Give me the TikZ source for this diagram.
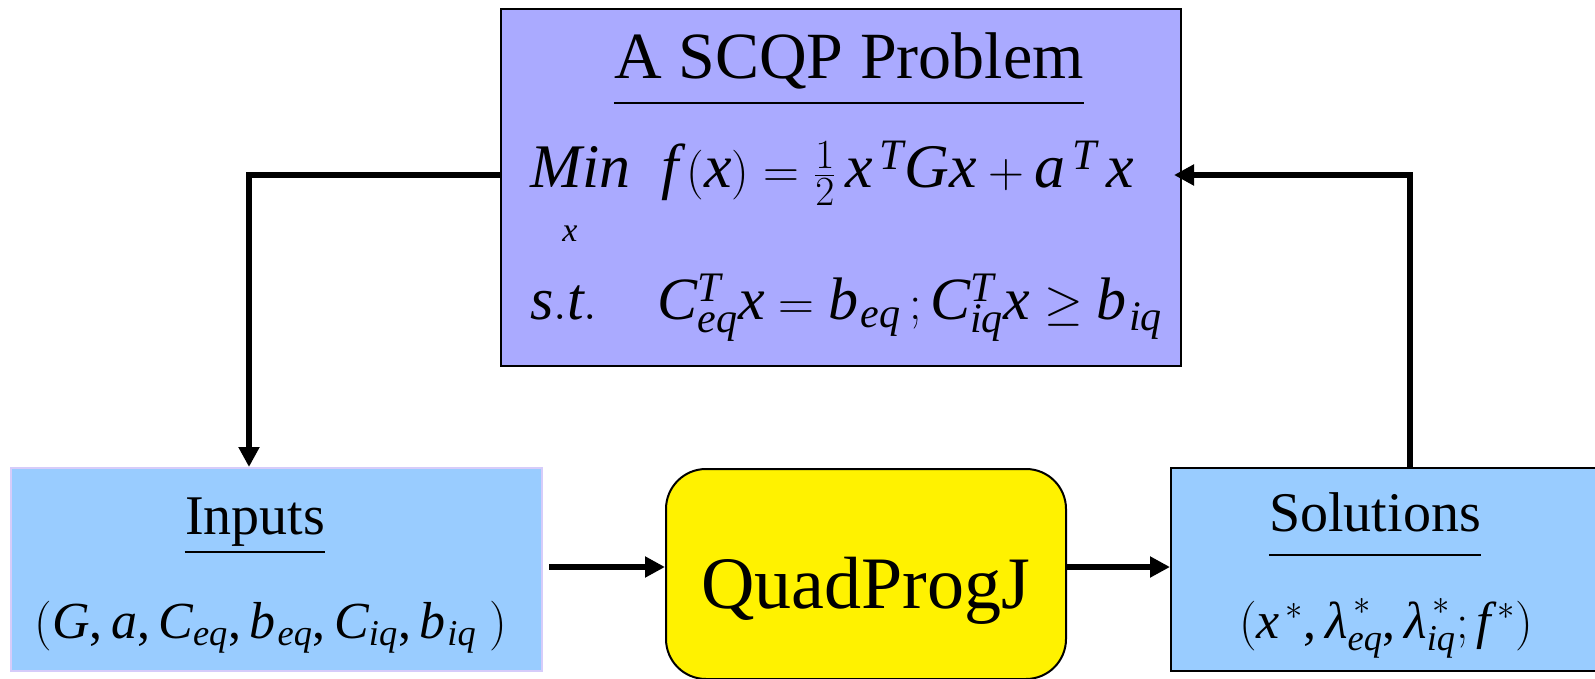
\documentclass[tikz,border=0pt]{standalone}
\usepackage{fontspec}
\setmainfont{Liberation Serif}
\usetikzlibrary{arrows.meta}
\DeclareMathSymbol{,}{\mathpunct}{operators}{`,}
\newcommand{\mi}[1]{\mathit{#1}}
\newcommand{\lam}{\mbox{\itshape λ}}
\definecolor{probblue}{RGB}{170,170,255}
\definecolor{ioblue}{RGB}{153,204,255}
\definecolor{ioedge}{RGB}{214,204,250}
\tikzset{
  box/.style={draw=black,line width=1pt,inner sep=0pt},
  txt/.style={inner sep=0pt,anchor=base},
  flow/.style={-{Triangle[length=10pt,width=10pt]},line width=3.2pt},
}
\begin{document}
\begin{tikzpicture}[x=0.5pt,y=-0.5pt]
\useasboundingbox (0,0) rectangle (1595,679);
% the four boxes
\node[box,fill=probblue,minimum width=340pt,minimum height=178.5pt] (prob) at (841,187.5) {};
\node[box,draw=ioedge,fill=ioblue,minimum width=265.5pt,minimum height=101.5pt] (inputs) at (276.5,569.5) {};
\node[box,fill=ioblue,minimum width=213.5pt,minimum height=101.5pt] (sols) at (1384.5,569.5) {};
\node[box,fill=yellow,rounded corners=20pt,minimum width=200pt,minimum height=105pt] (qp) at (866,574) {};
% problem text
\node[txt,font=\fontsize{33}{36}\selectfont] (probtitle) at (849,79) {A SCQP Problem};
\draw[line width=1.2pt] ([yshift=-12pt]probtitle.base west) -- ([yshift=-12pt]probtitle.base east);
\node[txt,anchor=base west,font=\fontsize{31}{34}\selectfont] (objline) at (530,188)
  {$\mi{Min}\ \ \mi{f}\,(\mi{x})=\frac{1}{2}\,\mi{x}^{\,\mi{T}}\mi{Gx}+\mi{a}^{\,\mi{T}}\,\mi{x}$};
\node[txt,font=\fontsize{17}{19}\selectfont\itshape] (minvar) at (570,242) {x};
\node[txt,anchor=base west,font=\fontsize{30}{33}\selectfont] (conline) at (530,320)
  {$\mi{s.t.}\quad\mi{C}_{\mi{eq}}^{\mi{T}}\mi{x}=\mi{b}_{\mkern1mu\mi{eq}}\,;\mi{C}_{\mi{iq}}^{\mi{T}}\mi{x}\geq\mi{b}_{\mkern1mu\mi{iq}}$};
% inputs text
\node[txt,font=\fontsize{28}{30}\selectfont] (intitle) at (255,534) {Inputs};
\draw[line width=1pt] ([yshift=-9pt]intitle.base west) -- ([yshift=-9pt]intitle.base east);
\node[txt,font=\fontsize{26}{28}\selectfont] (inargs) at (271,638)
  {$(\mi{G},\mi{a},\mi{C}_{\mi{eq}},\mi{b}_{\mkern1mu\mi{eq}},\mi{C}_{\mi{iq}},\mi{b}_{\mkern1mu\mi{iq}}\ )$};
% solver
\node[txt,font=\fontsize{37}{40}\selectfont] (qptext) at (866,608) {QuadProgJ};
% solutions text
\node[txt,font=\fontsize{28}{30}\selectfont] (soltitle) at (1375,531) {Solutions};
\draw[line width=1pt] ([yshift=-12pt]soltitle.base west) -- ([yshift=-12pt]soltitle.base east);
\node[txt,font=\fontsize{26}{28}\selectfont] (solargs) at (1386,638)
  {$(\mi{x}^{\,*},\lam_{\mi{eq}}^{\,*},\lam_{\mi{iq}}^{\,*};\mi{f}^{\,*})$};
% connectors
\coordinate (lbend) at (249,175);
\coordinate (rbend) at (1410,175);
\coordinate (midrow) at (0,567);
\draw[flow] (prob.west |- lbend) -- (lbend) -- (lbend |- inputs.north);
\draw[flow,shorten >=-4pt] (rbend |- sols.north) -- (rbend) -- (prob.east |- rbend);
\draw[flow] ([xshift=3pt]inputs.east |- midrow) -- (qp.west |- midrow);
\draw[flow] (qp.east |- midrow) -- (sols.west |- midrow);
\end{tikzpicture}
\end{document}
